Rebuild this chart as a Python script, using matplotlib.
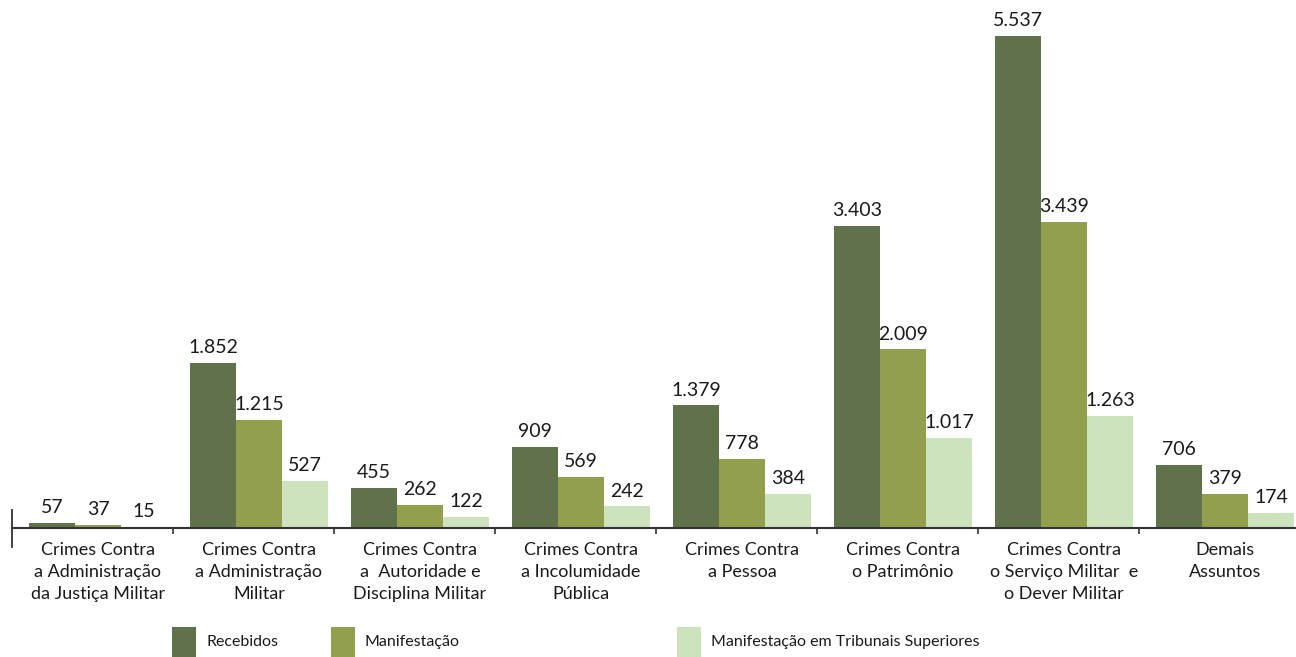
import matplotlib
matplotlib.use("Agg")
import matplotlib.pyplot as plt
from matplotlib.patches import Rectangle
from matplotlib.lines import Line2D
import numpy as np

categories = [
    "Crimes Contra\na Administração\nda Justiça Militar",
    "Crimes Contra\na Administração\nMilitar",
    "Crimes Contra\na  Autoridade e\nDisciplina Militar",
    "Crimes Contra\na Incolumidade\nPública",
    "Crimes Contra\na Pessoa",
    "Crimes Contra\no Patrimônio",
    "Crimes Contra\no Serviço Militar  e\no Dever Militar",
    "Demais\nAssuntos",
]
series_names = ["Recebidos", "Manifestação", "Manifestação em Tribunais Superiores"]
recebidos = [57, 1852, 455, 909, 1379, 3403, 5537, 706]
manifestacao = [37, 1215, 262, 569, 778, 2009, 3439, 379]
tribunais = [15, 527, 122, 242, 384, 1017, 1263, 174]
colors = ["#5f724a", "#92a04e", "#cde3bd"]

def fmt(v):
    return f"{v:,}".replace(",", ".")

plt.rcParams['font.family'] = ['Lato', 'DejaVu Sans']
fig = plt.figure(figsize=(12.96, 6.57), dpi=100)
W, H = 1296, 657
ax = fig.add_axes([12 / W, (H - 528) / H, (1296 - 12) / W, 528 / H])

x = np.arange(len(categories))
w = 46 / 161
for k, (vals, c) in enumerate(zip([recebidos, manifestacao, tribunais], colors)):
    pos = x + (k - 1) * w
    ax.bar(pos, vals, width=w, color=c, edgecolor='none', zorder=2)
    for p, v in zip(pos, vals):
        ax.annotate(fmt(v), (p, v), xytext=(0, 5), textcoords='offset points',
                    ha='center', va='bottom', fontsize=14, color='#1a1a1a')

ax.set_xlim(-0.534, 7.441)
ax.set_ylim(0, 5942)
for s in ['top', 'right', 'left']:
    ax.spines[s].set_visible(False)
ax.spines['bottom'].set_color('#333333')
ax.spines['bottom'].set_linewidth(1.5)
ax.set_yticks([])
ax.set_xticks(x)
ax.set_xticklabels(categories, fontsize=13, color='#1a1a1a', linespacing=1.45)
ax.tick_params(axis='x', which='major', length=0, pad=10)
ax.set_xticks(x[:-1] + 0.466, minor=True)
ax.tick_params(axis='x', which='minor', length=4, width=1.2, color='#333333', direction='out')

# left vertical marker line
fig.add_artist(Line2D([12 / W, 12 / W], [(H - 510) / H, (H - 547) / H],
                      color='#333333', lw=1.3))

# legend
leg_x = [172, 331, 677]
for name, c, lx in zip(series_names, colors, leg_x):
    fig.add_artist(Rectangle((lx / W, 0), 24 / W, 30 / H, color=c, lw=0))
    fig.text((lx + 34) / W, (H - 642) / H, name, fontsize=11.5, color='#1a1a1a',
             va='center', ha='left')

fig.savefig("out.png", dpi=100)
